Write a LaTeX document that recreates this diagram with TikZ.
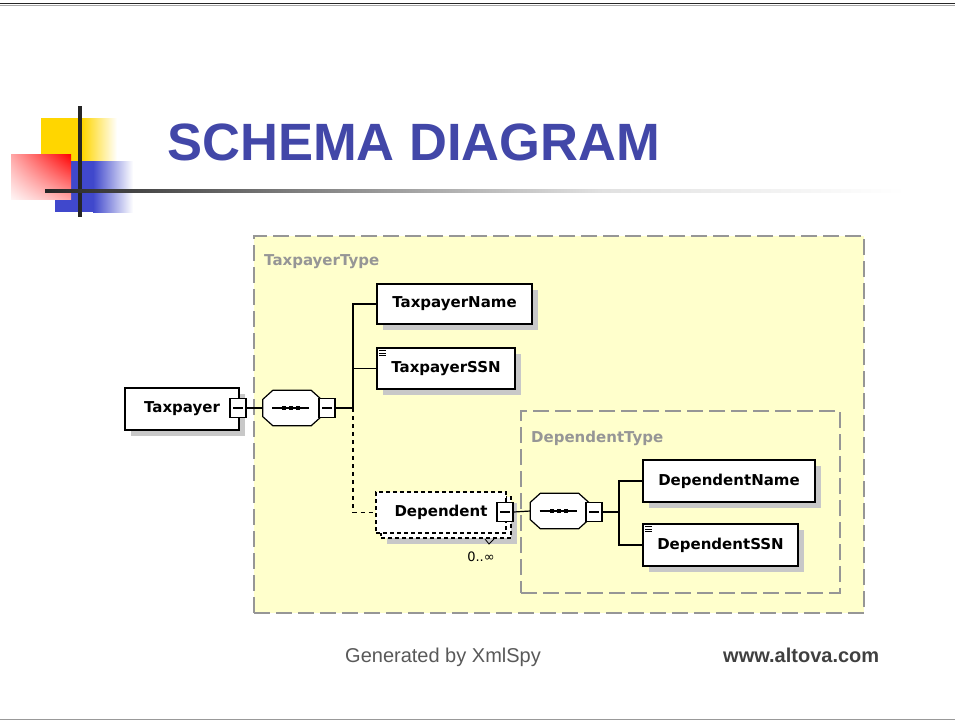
\documentclass[tikz,border=0pt]{standalone}
\usepackage{fontspec}
\setmainfont{Liberation Sans}
\newfontfamily\xsfont{DejaVu Sans}
\usetikzlibrary{shadows,shadings}
\definecolor{titleblue}{RGB}{66,71,168}
\definecolor{logogold}{RGB}{255,214,0}
\definecolor{logoblue}{RGB}{64,72,204}
\definecolor{typefill}{RGB}{255,255,204}
\definecolor{typegray}{RGB}{150,150,150}
\definecolor{shadowgray}{RGB}{200,200,200}
\newcommand\elemfont{\xsfont\bfseries\fontsize{15}{18}\selectfont}
\begin{document}
\begin{tikzpicture}[x=1pt,y=-1pt]
\tikzstyle{every node}+=[inner sep=0pt]
\tikzstyle{elem}=[draw=black,line width=1.2pt,fill=white,font=\elemfont,drop shadow={shadow xshift=6pt,shadow yshift=-6pt,fill=shadowgray,opacity=1}]
\tikzstyle{seq}=[minimum width=58pt,minimum height=35pt]
\tikzstyle{minusbox}=[draw=black,line width=1.2pt,fill=white,minimum width=16pt,minimum height=19pt,path picture={\draw[line width=1.2pt] ([xshift=3pt]path picture bounding box.west) -- ([xshift=-3pt]path picture bounding box.east);}]
\tikzstyle{typebox}=[draw=typegray,line width=1.3pt,dash pattern=on 16pt off 6pt]
\tikzstyle{typelabel}=[font=\elemfont,text=typegray,anchor=base west]
\tikzstyle{repbox}=[draw=black,line width=1.1pt,dash pattern=on 4pt off 3pt,fill=white,font=\elemfont]
\useasboundingbox[fill=white] (0,0) rectangle (955,721);
\draw[black!85,line width=1.5pt] (0,3.5) -- (955,3.5);
\draw[black!35,line width=1pt] (0,5.5) -- (955,5.5);
\draw[black!40,line width=1.5pt] (0,719.5) -- (955,719.5);
\fill[logogold] (41,118) rectangle (82,162);
\shade[left color=logogold,right color=white] (82,118) rectangle (117,162);
\fill[logoblue] (55,161) rectangle (93,212);
\shade[left color=logoblue,right color=white] (93,161) rectangle (133,212);
\shade[upper right=red,upper left=red!35,lower left=red!4,lower right=red!35] (11,154) rectangle (71,199);
\fill[black!85] (78,106) rectangle (82,217);
\shade[left color=black!85,right color=black!50] (45,189.5) rectangle (300,192.5);
\shade[left color=black!50,right color=black!12] (300,189.5) rectangle (600,192.5);
\shade[left color=black!12,right color=white] (600,189.5) rectangle (905,192.5);
\node[anchor=base west,text=titleblue,font=\bfseries\fontsize{52.5}{60}\selectfont] (title) at (167,160) {SCHEMA DIAGRAM};
\node[typebox,fill=typefill,minimum width=610pt,minimum height=377pt] (tpType) at (559,424.5) {};
\node[typelabel] (tpTypeLbl) at (264,265) {TaxpayerType};
\node[typebox,minimum width=319pt,minimum height=182pt] (depType) at (680.5,502) {};
\node[typelabel] (depTypeLbl) at (531,442) {DependentType};
\node[elem,minimum width=114pt,minimum height=42pt] (taxpayer) at (182,409) {Taxpayer};
\node[seq] (seqA) at (292,408) {};
\node[seq] (seqB) at (559.5,511) {};
\foreach \s in {seqA,seqB} {
  \fill[shadowgray,shift={(5,5)}] ([xshift=10pt]\s.north west) -- ([xshift=-10pt]\s.north east) -- ([yshift=-9pt]\s.north east) -- ([yshift=9pt]\s.south east) -- ([xshift=-10pt]\s.south east) -- ([xshift=10pt]\s.south west) -- ([yshift=9pt]\s.south west) -- ([yshift=-9pt]\s.north west) -- cycle;
  \filldraw[fill=white,line width=1.2pt] ([xshift=10pt]\s.north west) -- ([xshift=-10pt]\s.north east) -- ([yshift=-9pt]\s.north east) -- ([yshift=9pt]\s.south east) -- ([xshift=-10pt]\s.south east) -- ([xshift=10pt]\s.south west) -- ([yshift=9pt]\s.south west) -- ([yshift=-9pt]\s.north west) -- cycle;
  \draw[line width=1.1pt] ([xshift=-20pt]\s.center) -- ([xshift=17pt]\s.center);
  \foreach \d in {-8,-1,6}
    \fill ([shift={(\d-2,-2)}]\s.center) rectangle ++(4,4);
}
\node[minusbox] (tpMinus) at (238,408) {};
\node[minusbox] (seqAMinus) at (327,408) {};
\node[elem,minimum width=155pt,minimum height=40pt] (tpName) at (454.5,304) {TaxpayerName};
\node[elem,minimum width=138pt,minimum height=41pt] (tpSSN) at (446,368.5) {TaxpayerSSN};
\node[repbox,minimum width=130pt,minimum height=41pt,drop shadow={shadow xshift=6pt,shadow yshift=-6pt,fill=shadowgray,opacity=1}] (depBack) at (446,517.5) {};
\node[repbox,minimum width=130pt,minimum height=41pt] (dep) at (441,512.5) {Dependent};
\node[minusbox] (depMinus) at (505,512) {};
\node[font=\xsfont\fontsize{13}{15}\selectfont] (depOccurs) at (481,557) {0..∞};
\node[minusbox] (seqBMinus) at (594,512) {};
\node[elem,minimum width=172pt,minimum height=42pt] (depName) at (729,481) {DependentName};
\node[elem,minimum width=155pt,minimum height=42pt] (depSSN) at (720.5,545) {DependentSSN};
\foreach \n in {tpSSN,depSSN}
  \foreach \d in {3,5.5,8}
    \draw[line width=0.7pt] ([shift={(3,\d)}]\n.north west) -- ++(7,0);
\draw[line width=0.8pt] (485,539) -- (489,544) -- (494,539);
\coordinate (trunkA) at (353,408);
\coordinate (trunkB) at (619,512);
\draw[line width=1.2pt] (tpMinus.east) -- (seqA.west);
\draw[line width=1.2pt] (seqAMinus.east) -- (trunkA) |- (tpName.west);
\draw[line width=1.2pt] (trunkA) |- (tpSSN.west);
\draw[line width=1.2pt,dash pattern=on 4pt off 4pt] (trunkA) |- (dep.west);
\draw[line width=1.2pt] (depMinus.east) -- (seqB.west);
\draw[line width=1.2pt] (seqBMinus.east) -- (trunkB) |- (depName.west);
\draw[line width=1.2pt] (trunkB) |- (depSSN.west);
\node[anchor=base west,text=black!65,font=\fontsize{20}{24}\selectfont] (genBy) at (345,662) {Generated by XmlSpy};
\node[anchor=base west,text=black!75,font=\bfseries\fontsize{20}{24}\selectfont] (altova) at (723,662) {www.altova.com};
\end{tikzpicture}
\end{document}
